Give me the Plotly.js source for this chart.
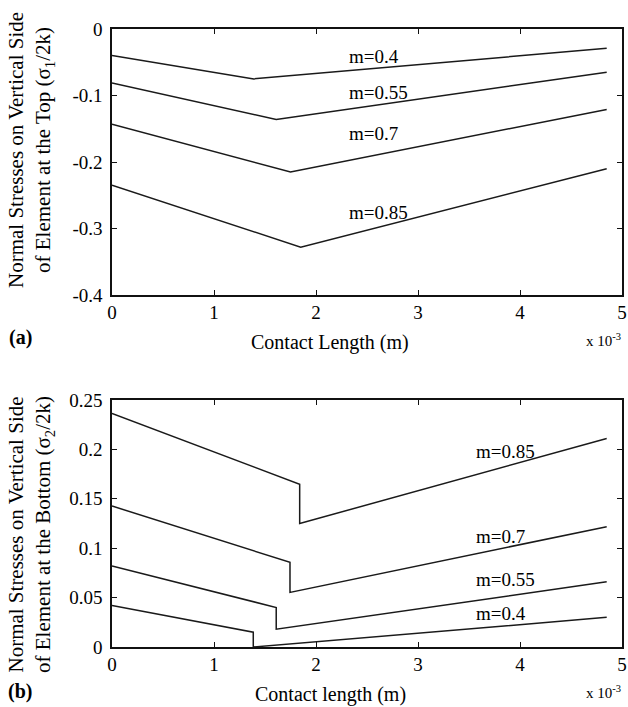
<!DOCTYPE html>
<html><head><meta charset="utf-8">
<script src="https://cdn.plot.ly/plotly-3.0.1.min.js"></script>
<style>body{margin:0;background:#fff}</style>
</head><body>
<div id="chart" style="width:628px;height:707px"></div>
<script>
// Contact length in units of 1e-3 m
const seriesNames = ["m=0.4", "m=0.55", "m=0.7", "m=0.85"];

// (a) top: sigma1/2k
const topX = {
  "m=0.4":  [0, 1.39, 4.85],
  "m=0.55": [0, 1.61, 4.85],
  "m=0.7":  [0, 1.75, 4.85],
  "m=0.85": [0, 1.85, 4.85]
};
const topY = {
  "m=0.4":  [-0.040, -0.075, -0.029],
  "m=0.55": [-0.081, -0.136, -0.065],
  "m=0.7":  [-0.143, -0.215, -0.121],
  "m=0.85": [-0.235, -0.328, -0.210]
};
// (b) bottom: sigma2/2k (with vertical drop)
const botX = {
  "m=0.4":  [0, 1.385, 1.385, 4.85],
  "m=0.55": [0, 1.61, 1.61, 4.85],
  "m=0.7":  [0, 1.745, 1.745, 4.85],
  "m=0.85": [0, 1.84, 1.84, 4.85]
};
const botY = {
  "m=0.4":  [0.042, 0.015, 0.000, 0.030],
  "m=0.55": [0.082, 0.040, 0.018, 0.066],
  "m=0.7":  [0.1427, 0.0857, 0.0553, 0.1218],
  "m=0.85": [0.2365, 0.1647, 0.125, 0.211]
};
const topLabelX = 2.3;
const topLabelY = [-0.042, -0.095, -0.157, -0.276];
const botLabelX = 3.55;
const botLabelY = [0.198, 0.112, 0.0685, 0.034];
const botLabelOrder = ["m=0.85", "m=0.7", "m=0.55", "m=0.4"];

const xTicks = [0, 1, 2, 3, 4, 5];
const topYTicks = [-0.4, -0.3, -0.2, -0.1, 0];
const topYTickText = ["-0.4", "-0.3", "-0.2", "-0.1", "0"];
const botYTicks = [0, 0.05, 0.1, 0.15, 0.2, 0.25];
const botYTickText = ["0", "0.05", "0.1", "0.15", "0.2", "0.25"];

const FONT = "Liberation Serif, Times New Roman, serif";
const lineStyle = {color: "#1a1a1a", width: 1.5};

const traces = [];
seriesNames.forEach(n => {
  traces.push({x: topX[n], y: topY[n], mode: "lines", line: lineStyle, xaxis: "x", yaxis: "y", showlegend: false, hoverinfo: "skip"});
  traces.push({x: botX[n], y: botY[n], mode: "lines", line: lineStyle, xaxis: "x2", yaxis: "y2", showlegend: false, hoverinfo: "skip"});
});

const annotations = [];
seriesNames.forEach((n, i) => {
  annotations.push({x: topLabelX, y: topLabelY[i], xref: "x", yref: "y", text: n, showarrow: false, xanchor: "left", yanchor: "middle", font: {family: FONT, size: 19, color: "#000"}});
});
botLabelOrder.forEach((n, i) => {
  annotations.push({x: botLabelX, y: botLabelY[i], xref: "x2", yref: "y2", text: n, showarrow: false, xanchor: "left", yanchor: "middle", font: {family: FONT, size: 19, color: "#000"}});
});

const L = 112, W = 510;
function px(x) { return (x - L) / W; }
function py(y) { return 1 - y / 707; }

const extra = [
  {x: px(330), y: py(342), text: "Contact Length (m)", size: 20},
  {x: px(330), y: py(694), text: "Contact length (m)", size: 20},
  {x: px(20), y: py(337), text: "<b>(a)</b>", size: 20},
  {x: px(20), y: py(691), text: "<b>(b)</b>", size: 20},
  {x: px(603), y: py(340), text: "x 10<sup>-3</sup>", size: 15},
  {x: px(603), y: py(692), text: "x 10<sup>-3</sup>", size: 15}
];
extra.forEach(a => annotations.push({x: a.x, y: a.y, xref: "paper", yref: "paper", text: a.text, showarrow: false, xanchor: "center", yanchor: "middle", font: {family: FONT, size: a.size, color: "#000"}}));

annotations.push({x: px(31), y: py(150), xref: "paper", yref: "paper", textangle: -90, showarrow: false, xanchor: "center", yanchor: "middle",
  text: "Normal Stresses on Vertical Side<br>of Element at the Top (σ<sub>1</sub>/2k)", font: {family: FONT, size: 21, color: "#000"}});
annotations.push({x: px(31), y: py(535), xref: "paper", yref: "paper", textangle: -90, showarrow: false, xanchor: "center", yanchor: "middle",
  text: "Normal Stresses on Vertical Side<br>of Element at the Bottom (σ<sub>2</sub>/2k)", font: {family: FONT, size: 21, color: "#000"}});

const axBase = {showgrid: false, zeroline: false, showline: true, linecolor: "#111", linewidth: 1.6, mirror: "ticks",
  ticks: "inside", ticklen: 5, tickcolor: "#111", tickfont: {family: FONT, size: 19, color: "#000"}};
const yExtra = {ticklabelstandoff: 4};

const layout = {
  width: 628, height: 707,
  margin: {l: L, r: 628 - L - W, t: 0, b: 0},
  paper_bgcolor: "#fff", plot_bgcolor: "#fff",
  xaxis: Object.assign({}, axBase, {domain: [0, 1], range: [0, 5], tickvals: xTicks, ticktext: xTicks.map(String), anchor: "y"}),
  yaxis: Object.assign({}, axBase, yExtra, {domain: [py(295), py(29)], range: [-0.4, 0], tickvals: topYTicks, ticktext: topYTickText, anchor: "x"}),
  xaxis2: Object.assign({}, axBase, {domain: [0, 1], range: [0, 5], tickvals: xTicks, ticktext: xTicks.map(String), anchor: "y2"}),
  yaxis2: Object.assign({}, axBase, yExtra, {domain: [py(647), py(400)], range: [0, 0.25], tickvals: botYTicks, ticktext: botYTickText, anchor: "x2"}),
  annotations: annotations
};

Plotly.newPlot("chart", traces, layout, {staticPlot: true, displayModeBar: false});
</script>
</body></html>
